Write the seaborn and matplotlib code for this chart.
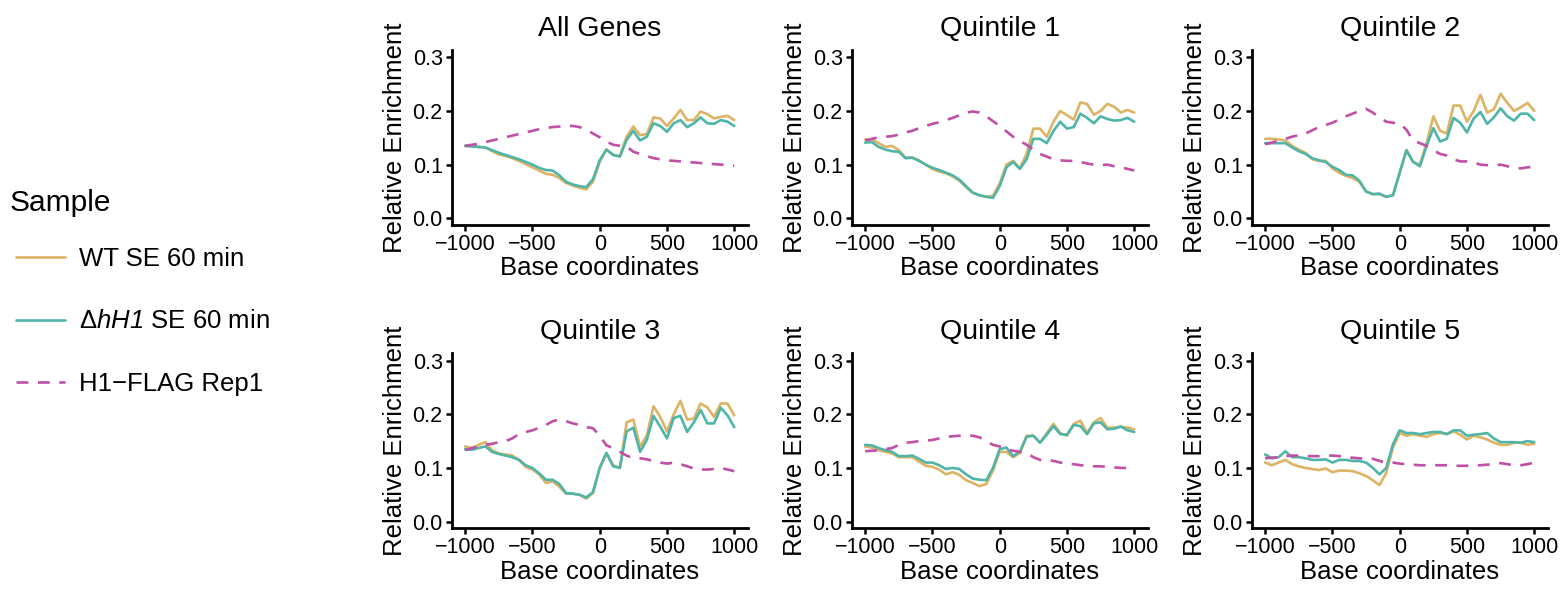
import numpy as np
import pandas as pd
import matplotlib
matplotlib.use("Agg")
import matplotlib.pyplot as plt
from matplotlib.lines import Line2D
import seaborn as sns

# ### 資料 ###
positions = list(range(-1000, 1001, 50))
panel_titles = ["All Genes", "Quintile 1", "Quintile 2",
                "Quintile 3", "Quintile 4", "Quintile 5"]
sample_names = ["WT SE 60 min", "hH1 SE 60 min", "H1-FLAG Rep1"]
legend_labels = ["WT SE 60 min", r"$\Delta\mathsf{hH1}$ SE 60 min", "H1\u2212FLAG Rep1"]
colors = ["#DDB364", "#4FB5A8", "#C14FA6"]
y_ticks = [0.0, 0.1, 0.2, 0.3]
x_ticks = [-1000, -500, 0, 500, 1000]

wt_all = [0.135, 0.134, 0.133, 0.132, 0.125, 0.119, 0.116, 0.112, 0.107, 0.101,
          0.095, 0.089, 0.083, 0.081, 0.075, 0.066, 0.061, 0.057, 0.054, 0.068,
          0.105, 0.128, 0.118, 0.116, 0.152, 0.171, 0.155, 0.157, 0.188, 0.186,
          0.172, 0.186, 0.202, 0.183, 0.183, 0.199, 0.194, 0.186, 0.189, 0.191, 0.183]
hh1_all = [0.135, 0.134, 0.133, 0.132, 0.127, 0.122, 0.118, 0.114, 0.110, 0.105,
           0.100, 0.094, 0.090, 0.089, 0.080, 0.068, 0.063, 0.060, 0.058, 0.073,
           0.108, 0.128, 0.118, 0.115, 0.146, 0.163, 0.145, 0.152, 0.177, 0.172,
           0.161, 0.177, 0.183, 0.170, 0.177, 0.188, 0.177, 0.176, 0.183, 0.180, 0.172]
flag_all = [0.135, 0.137, 0.139, 0.142, 0.145, 0.148, 0.151, 0.154, 0.157, 0.160,
            0.163, 0.166, 0.168, 0.170, 0.171, 0.172, 0.172, 0.170, 0.165, 0.158,
            0.151, 0.143, 0.137, 0.135, 0.134, 0.124, 0.120, 0.116, 0.112, 0.110,
            0.108, 0.107, 0.106, 0.105, 0.104, 0.103, 0.102, 0.101, 0.100, 0.099, 0.098]

wt_q1 = [0.147, 0.147, 0.140, 0.133, 0.135, 0.127, 0.113, 0.113, 0.108, 0.100,
         0.092, 0.087, 0.084, 0.078, 0.070, 0.058, 0.047, 0.043, 0.040, 0.042,
         0.065, 0.100, 0.107, 0.093, 0.120, 0.167, 0.167, 0.152, 0.180, 0.200,
         0.192, 0.184, 0.216, 0.213, 0.193, 0.200, 0.213, 0.208, 0.197, 0.202, 0.197]
hh1_q1 = [0.141, 0.142, 0.133, 0.128, 0.125, 0.124, 0.112, 0.113, 0.107, 0.100,
          0.094, 0.090, 0.085, 0.080, 0.072, 0.060, 0.048, 0.043, 0.040, 0.038,
          0.060, 0.095, 0.105, 0.092, 0.110, 0.148, 0.148, 0.140, 0.163, 0.180,
          0.167, 0.170, 0.195, 0.187, 0.177, 0.190, 0.185, 0.182, 0.183, 0.187, 0.180]
flag_q1 = [0.145, 0.148, 0.151, 0.152, 0.153, 0.156, 0.160, 0.163, 0.168, 0.172,
           0.176, 0.179, 0.183, 0.187, 0.192, 0.197, 0.199, 0.197, 0.190, 0.181,
           0.172, 0.162, 0.152, 0.144, 0.137, 0.128, 0.120, 0.115, 0.110, 0.108,
           0.107, 0.107, 0.105, 0.102, 0.100, 0.099, 0.100, 0.097, 0.095, 0.092, 0.089]

wt_q2 = [0.148, 0.148, 0.147, 0.145, 0.135, 0.128, 0.122, 0.110, 0.107, 0.107,
         0.093, 0.085, 0.079, 0.075, 0.068, 0.050, 0.045, 0.045, 0.040, 0.043,
         0.085, 0.127, 0.105, 0.100, 0.140, 0.190, 0.163, 0.158, 0.210, 0.210,
         0.180, 0.200, 0.230, 0.197, 0.203, 0.232, 0.215, 0.200, 0.207, 0.215, 0.200]
hh1_q2 = [0.140, 0.140, 0.140, 0.140, 0.132, 0.125, 0.120, 0.112, 0.108, 0.105,
          0.096, 0.090, 0.081, 0.080, 0.070, 0.050, 0.045, 0.046, 0.040, 0.043,
          0.085, 0.127, 0.105, 0.097, 0.135, 0.168, 0.143, 0.148, 0.187, 0.178,
          0.160, 0.186, 0.198, 0.176, 0.188, 0.205, 0.190, 0.182, 0.195, 0.195, 0.183]
flag_q2 = [0.138, 0.141, 0.145, 0.148, 0.152, 0.155, 0.158, 0.164, 0.170, 0.174,
           0.178, 0.184, 0.190, 0.195, 0.200, 0.204, 0.197, 0.188, 0.180, 0.178,
           0.177, 0.165, 0.145, 0.140, 0.135, 0.127, 0.120, 0.117, 0.110, 0.106,
           0.106, 0.104, 0.100, 0.099, 0.098, 0.100, 0.097, 0.094, 0.093, 0.095, 0.096]

wt_q3 = [0.140, 0.137, 0.143, 0.148, 0.133, 0.127, 0.125, 0.123, 0.115, 0.102,
         0.097, 0.088, 0.072, 0.075, 0.065, 0.052, 0.052, 0.050, 0.043, 0.053,
         0.100, 0.127, 0.105, 0.100, 0.185, 0.190, 0.140, 0.160, 0.215, 0.195,
         0.168, 0.200, 0.225, 0.190, 0.192, 0.220, 0.213, 0.195, 0.220, 0.220, 0.198]
hh1_q3 = [0.135, 0.134, 0.137, 0.140, 0.130, 0.126, 0.123, 0.120, 0.115, 0.105,
          0.100, 0.090, 0.078, 0.078, 0.070, 0.053, 0.052, 0.050, 0.045, 0.055,
          0.100, 0.128, 0.103, 0.100, 0.168, 0.175, 0.130, 0.152, 0.197, 0.177,
          0.155, 0.193, 0.197, 0.167, 0.185, 0.208, 0.183, 0.183, 0.212, 0.198, 0.176]
flag_q3 = [0.133, 0.137, 0.140, 0.143, 0.145, 0.148, 0.150, 0.155, 0.163, 0.167,
           0.170, 0.175, 0.180, 0.187, 0.190, 0.187, 0.183, 0.180, 0.176, 0.174,
           0.160, 0.142, 0.137, 0.130, 0.123, 0.118, 0.118, 0.116, 0.113, 0.110,
           0.108, 0.110, 0.107, 0.103, 0.099, 0.097, 0.097, 0.098, 0.100, 0.097, 0.094]

wt_q4 = [0.140, 0.138, 0.133, 0.130, 0.127, 0.120, 0.120, 0.120, 0.112, 0.104,
         0.102, 0.097, 0.088, 0.092, 0.087, 0.077, 0.072, 0.066, 0.070, 0.095,
         0.130, 0.130, 0.120, 0.128, 0.160, 0.160, 0.147, 0.165, 0.182, 0.165,
         0.160, 0.182, 0.188, 0.165, 0.185, 0.193, 0.175, 0.175, 0.177, 0.175, 0.172]
hh1_q4 = [0.143, 0.142, 0.137, 0.133, 0.130, 0.122, 0.122, 0.123, 0.117, 0.110,
          0.110, 0.105, 0.098, 0.100, 0.098, 0.088, 0.080, 0.078, 0.077, 0.100,
          0.135, 0.138, 0.122, 0.130, 0.158, 0.160, 0.147, 0.162, 0.178, 0.163,
          0.162, 0.180, 0.178, 0.163, 0.183, 0.185, 0.172, 0.173, 0.177, 0.170, 0.167]
flag_q4 = [0.131, 0.132, 0.133, 0.135, 0.137, 0.143, 0.147, 0.148, 0.150, 0.151,
           0.152, 0.155, 0.158, 0.159, 0.160, 0.160, 0.160, 0.157, 0.150, 0.143,
           0.140, 0.135, 0.132, 0.130, 0.128, 0.120, 0.115, 0.115, 0.113, 0.110,
           0.108, 0.107, 0.105, 0.104, 0.103, 0.103, 0.102, 0.101, 0.100, 0.100, 0.102]

wt_q5 = [0.110, 0.105, 0.110, 0.115, 0.107, 0.103, 0.100, 0.098, 0.096, 0.099,
         0.092, 0.095, 0.095, 0.094, 0.090, 0.085, 0.077, 0.068, 0.091, 0.138,
         0.165, 0.160, 0.163, 0.160, 0.158, 0.163, 0.165, 0.163, 0.168, 0.162,
         0.153, 0.160, 0.157, 0.153, 0.147, 0.143, 0.143, 0.147, 0.147, 0.143, 0.145]
hh1_q5 = [0.125, 0.118, 0.120, 0.131, 0.120, 0.120, 0.118, 0.115, 0.115, 0.116,
          0.110, 0.115, 0.115, 0.113, 0.113, 0.110, 0.100, 0.088, 0.100, 0.144,
          0.170, 0.165, 0.165, 0.163, 0.165, 0.167, 0.167, 0.163, 0.170, 0.170,
          0.160, 0.162, 0.163, 0.165, 0.155, 0.148, 0.148, 0.148, 0.147, 0.150, 0.148]
flag_q5 = [0.118, 0.119, 0.120, 0.122, 0.123, 0.123, 0.122, 0.122, 0.122, 0.123,
           0.123, 0.122, 0.120, 0.119, 0.118, 0.117, 0.117, 0.113, 0.110, 0.110,
           0.108, 0.107, 0.106, 0.105, 0.105, 0.105, 0.105, 0.105, 0.104, 0.104,
           0.104, 0.105, 0.105, 0.106, 0.107, 0.109, 0.107, 0.105, 0.105, 0.107, 0.110]

panel_data = [
    (wt_all, hh1_all, flag_all),
    (wt_q1, hh1_q1, flag_q1),
    (wt_q2, hh1_q2, flag_q2),
    (wt_q3, hh1_q3, flag_q3),
    (wt_q4, hh1_q4, flag_q4),
    (wt_q5, hh1_q5, flag_q5),
]


def build_frame(series):
    """
    把三條線整理成長格式 DataFrame
    """
    rows = []
    for name, values in zip(sample_names, series):
        for pos, val in zip(positions, values):
            rows.append({"pos": pos, "enrich": val, "Sample": name})
    return pd.DataFrame(rows)


sns.set_style("ticks")
plt.rcParams['font.family'] = ['Liberation Sans', 'DejaVu Sans']
plt.rcParams['mathtext.fontset'] = 'custom'
plt.rcParams['mathtext.rm'] = 'Liberation Sans'
plt.rcParams['mathtext.it'] = 'Liberation Sans:italic'
plt.rcParams['mathtext.sf'] = 'Liberation Sans:italic'  # 讓數字 1 也是斜體
plt.rcParams['text.color'] = 'black'
plt.rcParams['axes.labelcolor'] = 'black'

fig = plt.figure(figsize=(15.61, 5.90), dpi=100)

palette = dict(zip(sample_names, colors))
flag_dash = (4.5, 3.6)
dash_map = {sample_names[0]: "", sample_names[1]: "", sample_names[2]: flag_dash}

ax_w = 296 / 1561
ax_h = 175 / 590
lefts = [451.7 / 1561, 851.7 / 1561, 1251.7 / 1561]
bottoms = [1 - 225 / 590, 1 - 528.3 / 590]

for i, (title, series) in enumerate(zip(panel_titles, panel_data)):
    ax = fig.add_axes([lefts[i % 3], bottoms[i // 3], ax_w, ax_h])
    df = build_frame(series)
    sns.lineplot(data=df, x="pos", y="enrich", hue="Sample", style="Sample",
                 palette=palette, dashes=dash_map, linewidth=1.9,
                 legend=False, ax=ax)
    ax.set_xlim(-1100, 1100)
    ax.set_ylim(-0.0125, 0.3136)
    ax.set_xticks(x_ticks)
    ax.set_xticklabels([str(t).replace("-", "\u2212") for t in x_ticks])
    ax.set_yticks(y_ticks)
    ax.set_yticklabels([f"{t:.1f}" for t in y_ticks])
    ax.set_title(title, fontsize=20.5, pad=10, color="black")
    ax.set_xlabel("Base coordinates", fontsize=18.5, labelpad=1)
    ax.set_ylabel("Relative Enrichment", fontsize=18.5, labelpad=4)
    ax.tick_params(axis="both", labelsize=15.5, width=1.8, length=4,
                   color="black", labelcolor="black", pad=2.5)
    sns.despine(ax=ax)
    for side in ["left", "bottom"]:
        ax.spines[side].set_linewidth(2.0)
        ax.spines[side].set_color("black")
    ax.set_facecolor("white")

handles = [
    Line2D([], [], color=colors[0], linewidth=1.9),
    Line2D([], [], color=colors[1], linewidth=1.9),
    Line2D([], [], color=colors[2], linewidth=1.9, dashes=flag_dash),
]
fig.text(10 / 1561, 1 - 203 / 590, "Sample", fontsize=21.5,
         ha="left", va="center", color="black")
fig.legend(handles, legend_labels, loc="center left",
           bbox_to_anchor=(16 / 1561, 1 - 321.5 / 590), frameon=False,
           fontsize=18.5, labelspacing=1.5, handlelength=1.9,
           handletextpad=0.55, borderpad=0, borderaxespad=0)

fig.savefig("out.png", dpi=100, facecolor="white")
